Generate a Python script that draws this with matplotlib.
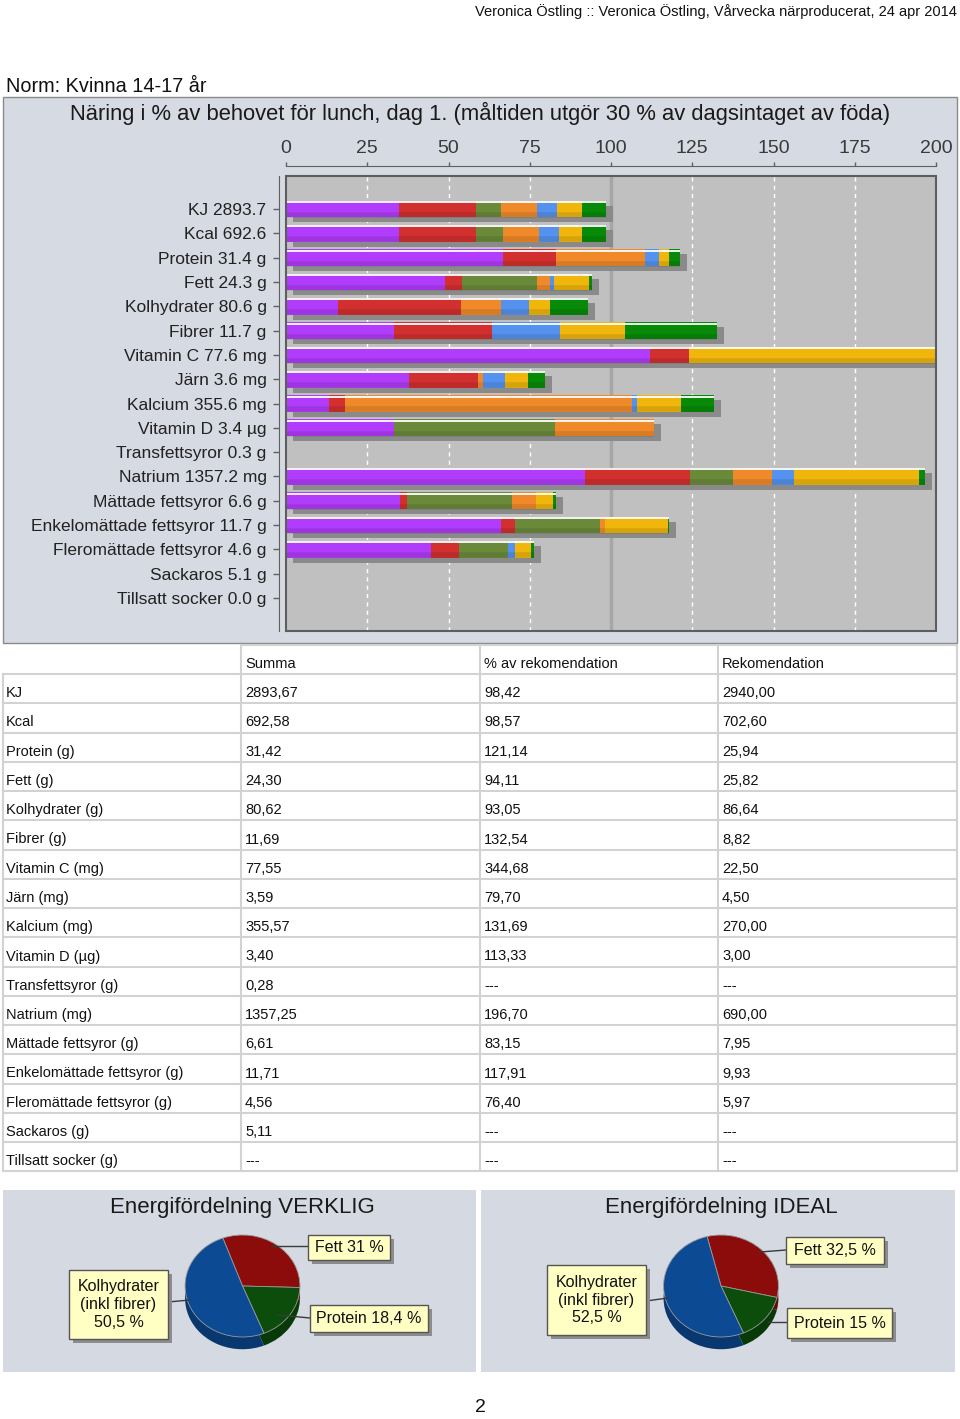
import matplotlib
matplotlib.use('Agg')
import matplotlib.pyplot as plt
import matplotlib.patheffects as pe
from matplotlib.patches import Rectangle
from matplotlib.lines import Line2D
import numpy as np

plt.rcParams['font.family'] = ['Liberation Sans', 'DejaVu Sans']

# ---------------- data ----------------
header_text = "Veronica Östling :: Veronica Östling, Vårvecka närproducerat, 24 apr 2014"
norm_text = "Norm: Kvinna 14-17 år"
bar_title = "Näring i % av behovet för lunch, dag 1. (måltiden utgör 30 % av dagsintaget av föda)"

bar_labels = ["KJ 2893.7", "Kcal 692.6", "Protein 31.4 g", "Fett 24.3 g",
              "Kolhydrater 80.6 g", "Fibrer 11.7 g", "Vitamin C 77.6 mg",
              "Järn 3.6 mg", "Kalcium 355.6 mg", "Vitamin D 3.4 µg",
              "Transfettsyror 0.3 g", "Natrium 1357.2 mg", "Mättade fettsyror 6.6 g",
              "Enkelomättade fettsyror 11.7 g", "Fleromättade fettsyror 4.6 g",
              "Sackaros 5.1 g", "Tillsatt socker 0.0 g"]

# stacked % contributions of the seven meal components (one list per component)
comp_purple = [34.8, 34.8, 66.9, 48.9, 16.1, 33.3, 111.9, 37.7, 13.3, 33.1, 0, 92.0, 35.0, 66.2, 44.6, 0, 0]
comp_red    = [23.6, 23.6, 16.2,  5.2, 37.7, 30.0,  12.0, 21.5,  4.8,  0.0, 0, 32.4,  2.2,  4.3,  8.5, 0, 0]
comp_olive  = [ 7.8,  8.4,  0.0, 23.2,  0.0,  0.0,   0.0,  0.0,  0.0, 49.8, 0, 13.1, 32.2, 26.0, 15.1, 0, 0]
comp_orange = [11.0, 11.1, 27.4,  4.0, 12.2,  0.0,   0.0,  1.5, 88.3, 30.4, 0, 12.1,  7.5,  1.5,  0.0, 0, 0]
comp_blue   = [ 6.2,  6.1,  4.4,  1.3,  8.9, 21.1,   0.0,  6.6,  1.7,  0.0, 0,  6.7,  0.0,  0.0,  2.3, 0, 0]
comp_yellow = [ 7.7,  7.1,  2.9, 10.5,  6.4, 19.8, 220.8,  7.1, 13.5,  0.0, 0, 38.5,  5.4, 19.4,  4.9, 0, 0]
comp_green  = [ 7.3,  7.4,  3.3,  1.0, 11.7, 28.3,   0.0,  5.3, 10.1,  0.0, 0,  1.9,  0.8,  0.5,  1.0, 0, 0]
components = [comp_purple, comp_red, comp_olive, comp_orange, comp_blue, comp_yellow, comp_green]
comp_colors = ['#b23cfb', '#d22f2f', '#6a8a3a', '#f0892a', '#5592f0', '#f0b60c', '#078a07']

x_ticks = [0, 25, 50, 75, 100, 125, 150, 175, 200]

table_header = ["", "Summa", "% av rekomendation", "Rekomendation"]
table_names = ["KJ", "Kcal", "Protein (g)", "Fett (g)", "Kolhydrater (g)", "Fibrer (g)",
               "Vitamin C (mg)", "Järn (mg)", "Kalcium (mg)", "Vitamin D (µg)",
               "Transfettsyror (g)", "Natrium (mg)", "Mättade fettsyror (g)",
               "Enkelomättade fettsyror (g)", "Fleromättade fettsyror (g)",
               "Sackaros (g)", "Tillsatt socker (g)"]
table_summa = ["2893,67", "692,58", "31,42", "24,30", "80,62", "11,69", "77,55", "3,59",
               "355,57", "3,40", "0,28", "1357,25", "6,61", "11,71", "4,56", "5,11", "---"]
table_pct = ["98,42", "98,57", "121,14", "94,11", "93,05", "132,54", "344,68", "79,70",
             "131,69", "113,33", "---", "196,70", "83,15", "117,91", "76,40", "---", "---"]
table_rek = ["2940,00", "702,60", "25,94", "25,82", "86,64", "8,82", "22,50", "4,50",
             "270,00", "3,00", "---", "690,00", "7,95", "9,93", "5,97", "---", "---"]

pie_names = ["Fett", "Protein", "Kolhydrater"]
pie_verklig = [31.0, 18.4, 50.5]
pie_ideal = [32.5, 15.0, 52.5]
pie_verklig_txt = ["Fett 31 %", "Protein 18,4 %", "Kolhydrater\n(inkl fibrer)\n50,5 %"]
pie_ideal_txt = ["Fett 32,5 %", "Protein 15 %", "Kolhydrater\n(inkl fibrer)\n52,5 %"]

# ---------------- figure helpers ----------------
W, H = 960, 1419
fig = plt.figure(figsize=(W / 100, H / 100), dpi=100)
fig.patch.set_facecolor('white')

def fx(x):
    return x / W

def fy(y):
    return 1 - y / H

def frect(x0, y0, x1, y1):
    return [fx(x0), fy(y1), (x1 - x0) / W, (y1 - y0) / H]

def fig_rect(x0, y0, x1, y1, zorder=1, **kw):
    r = Rectangle((fx(x0), fy(y1)), (x1 - x0) / W, (y1 - y0) / H,
                  transform=fig.transFigure, zorder=zorder, **kw)
    fig.add_artist(r)
    return r

def fig_line(xs, ys, zorder=2, **kw):
    fig.add_artist(Line2D([fx(v) for v in xs], [fy(v) for v in ys],
                          transform=fig.transFigure, zorder=zorder, **kw))

# ---------------- header ----------------
fig.text(fx(957), fy(12), header_text, ha='right', va='center', fontsize=10.5, color='#111')
fig.text(fx(6), fy(87), norm_text, ha='left', va='center', fontsize=14.3, color='#111')

# ---------------- bar chart panel ----------------
fig_rect(3, 97, 957, 643, zorder=-5, facecolor='#d6dae2', edgecolor='#8a8a8a', lw=1)
fig.text(fx(480), fy(113), bar_title, ha='center', va='center', fontsize=15.8, color='#1a1a1a')

ax = fig.add_axes(frect(286, 176, 936, 631))
ax.set_facecolor('#c0c0c0')
n = len(bar_labels)
ypos = np.arange(n)
bar_h = 0.69
shadow = [pe.SimplePatchShadow(offset=(5, -3.6), shadow_rgbFace='#8a8a8a', alpha=1.0), pe.Normal()]
left = np.zeros(n)
for vals, col in zip(components, comp_colors):
    vals = np.array(vals, dtype=float)
    ax.barh(ypos, vals, left=left, height=bar_h, color=col, edgecolor='none',
            zorder=3, path_effects=shadow)
    left = left + vals
totals = left
has = totals > 0
# darker lower band (gradient look) and white highlight line on top
ax.hlines(ypos[has] + bar_h / 2 - 0.1, 0, totals[has], color='black', alpha=0.10, lw=4, zorder=4)
ax.hlines(ypos[has] - bar_h / 2 + 0.06, 0, totals[has], color='white', lw=1.3, zorder=4)

for v in x_ticks[1:-1]:
    if v == 100:
        ax.axvline(v, color='#a6a6a6', lw=2.5, zorder=1)
    else:
        ax.axvline(v, color='white', lw=1, ls=(0, (3, 3)), zorder=1)

ax.set_xlim(0, 200)
ax.set_ylim(n - 1 + 1.36, -1.36)
ax.xaxis.tick_top()
ax.set_xticks(x_ticks)
ax.set_xticklabels([str(t) for t in x_ticks])
ax.set_yticks(ypos)
ax.set_yticklabels(bar_labels)
ax.tick_params(axis='x', direction='out', length=3, width=1, color='#606060',
               labelsize=14, labelcolor='#3a3a3a', pad=4)
ax.tick_params(axis='y', direction='out', length=4, width=1, color='#606060',
               labelsize=12.5, labelcolor='#222', pad=5)
for s in ['bottom', 'right']:
    ax.spines[s].set_visible(False)
ax.spines['top'].set_position(('outward', 7))
ax.spines['left'].set_position(('outward', 5))
ax.spines['top'].set_color('#606060')
ax.spines['left'].set_color('#606060')
ax.add_patch(Rectangle((0, 0), 1, 1, transform=ax.transAxes, fill=False,
                       ec='#5e5e5e', lw=1.5, zorder=6, clip_on=False))

# ---------------- table ----------------
col_x = [6, 245, 484, 722]
row_y0 = 664
pitch = 29.25
line_c = '#d2d2d2'
fig_line([241, 957], [645, 645], color=line_c, lw=1.5)
for k in range(n + 1):
    yl = row_y0 + 10 + pitch * k
    fig_line([3, 957], [yl, yl], color=line_c, lw=1.5)
yb = row_y0 + 10 + pitch * n
fig_line([3, 3], [row_y0 + 10, yb], color=line_c, lw=1.5)
for xv in [241, 480, 718, 957]:
    fig_line([xv, xv], [645, yb], color=line_c, lw=1.5)

for j, txt in enumerate(table_header):
    fig.text(fx(col_x[j]), fy(row_y0), txt, ha='left', va='center', fontsize=10.5, color='#111')
for i in range(n):
    yy = row_y0 + pitch * (i + 1)
    for j, txt in enumerate([table_names[i], table_summa[i], table_pct[i], table_rek[i]]):
        fig.text(fx(col_x[j]), fy(yy), txt, ha='left', va='center', fontsize=10.5, color='#111')

# ---------------- pies ----------------
top_cols = ['#8c0b0b', '#0c4d0c', '#0c4a94']
side_cols = ['#6a0707', '#083a08', '#08386f']

def draw_panel(x0, x1, title, values, start, texts, boxes, lines):
    fig_rect(x0, 1190, x1, 1372, zorder=-5, facecolor='#d5d9e1', edgecolor='none')
    cx = (x0 + x1) / 2 + 3
    fig.text(fx(cx), fy(1207), title, ha='center', va='center', fontsize=16, color='#1a1a1a')
    pax = fig.add_axes(frect(cx - 58, 1235, cx + 58, 1350))
    pax.pie(values, colors=side_cols, startangle=start, counterclock=False,
            center=(0, -0.24), radius=1, wedgeprops=dict(ec='none'))
    pax.pie(values, colors=top_cols, startangle=start, counterclock=False,
            center=(0, 0), radius=1, wedgeprops=dict(ec='#9a9a9a', lw=0.6))
    pax.set_aspect('auto')
    pax.set_xlim(-1.01, 1.01)
    pax.set_ylim(-1.255, 1.0)
    pax.axis('off')
    for (lx, ly) in lines:
        fig_line(lx, ly, zorder=3, color='#3a3a3a', lw=1)
    for txt, (bx0, by0, bx1, by1) in zip(texts, boxes):
        fig_rect(bx0 + 4, by0 + 4, bx1 + 4, by1 + 4, zorder=3, facecolor='#8c8c8c', edgecolor='none')
        fig_rect(bx0, by0, bx1, by1, zorder=4, facecolor='#ffffc4', edgecolor='#555555', lw=1)
        fig.text(fx((bx0 + bx1) / 2), fy((by0 + by1) / 2), txt, ha='center', va='center',
                 fontsize=11.5, color='#111', linespacing=1.25, zorder=5)

draw_panel(3, 476, "Energifördelning VERKLIG", pie_verklig, 110, pie_verklig_txt,
           [(308, 1235, 390, 1260), (310, 1305, 428, 1332), (69, 1270, 168, 1339)],
           [([272, 308], [1246, 1246]), ([278, 310], [1315, 1318]), ([168, 190], [1302, 1300])])
draw_panel(481, 955, "Energifördelning IDEAL", pie_ideal, 104, pie_ideal_txt,
           [(786, 1237, 884, 1264), (787, 1308, 892, 1338), (547, 1265, 646, 1335)],
           [([760, 786], [1252, 1250]), ([768, 787], [1322, 1322]), ([646, 668], [1301, 1298])])

# ---------------- page number ----------------
fig.text(fx(480), fy(1408), "2", ha='center', va='center', fontsize=14, color='#111')

fig.savefig('out.png', dpi=100, facecolor='white')
